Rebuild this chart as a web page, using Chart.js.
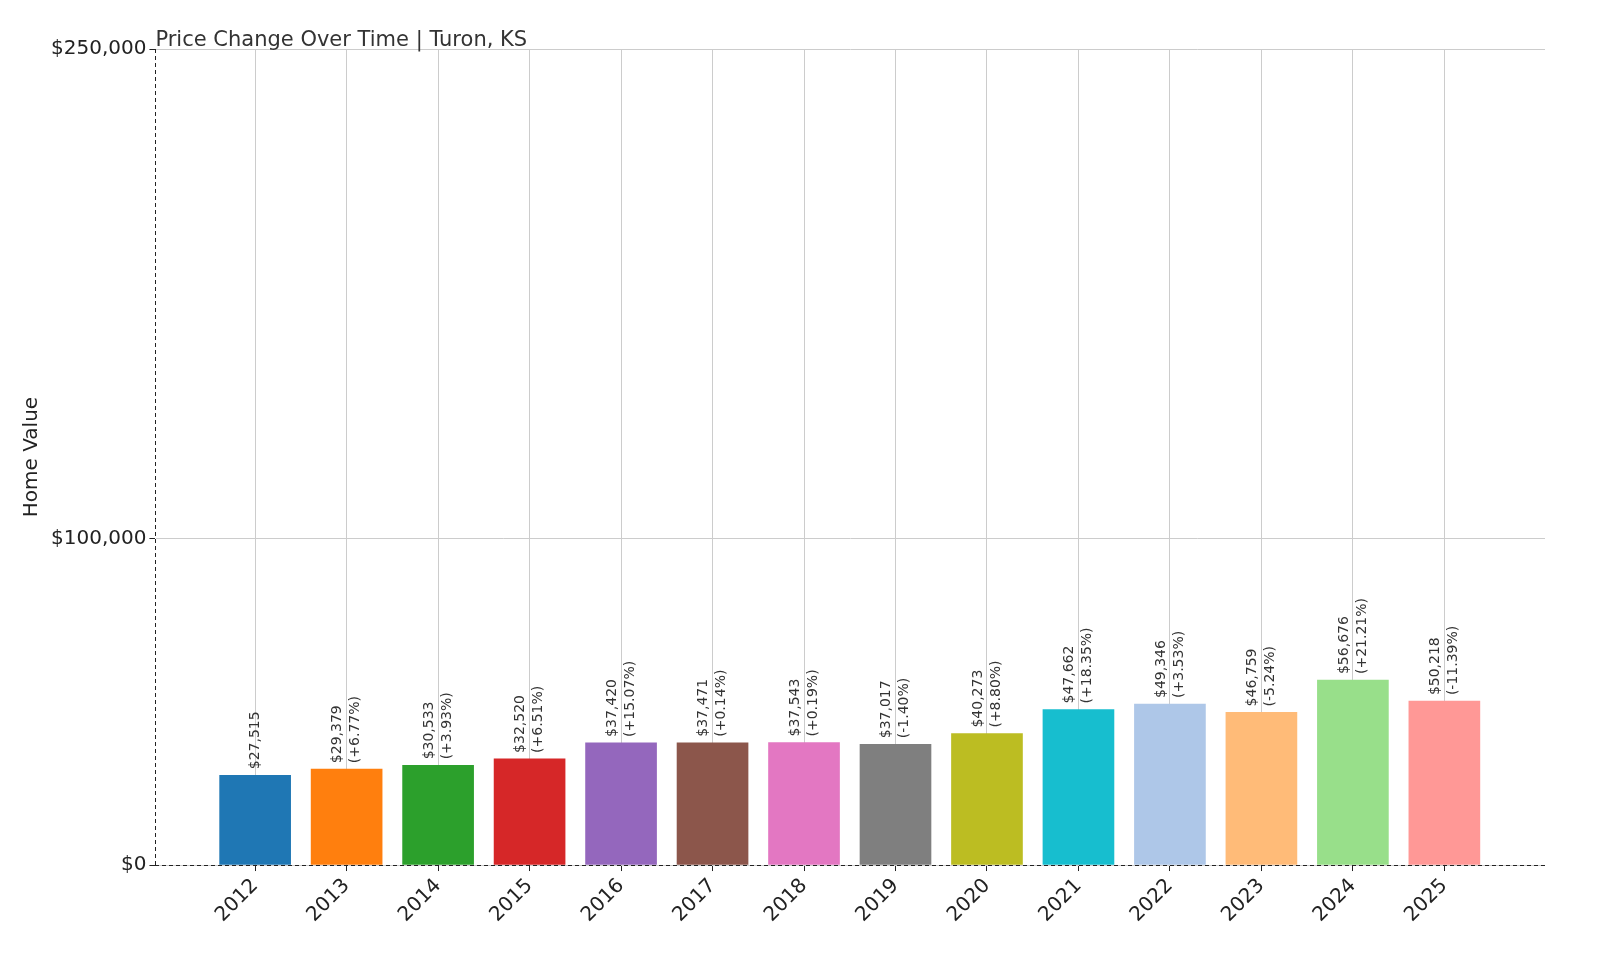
<!DOCTYPE html>
<html><head><meta charset="utf-8">
<script src="https://cdn.jsdelivr.net/npm/chart.js@4"></script>
<style>html,body{margin:0;background:#fff}#c{display:block}</style></head>
<body><canvas id="c" width="1600" height="960"></canvas>
<script>
const years=["2012","2013","2014","2015","2016","2017","2018","2019","2020","2021","2022","2023","2024","2025"];
const values=[27515,29379,30533,32520,37420,37471,37543,37017,40273,47662,49346,46759,56676,50218];
const changes=["","(+6.77%)","(+3.93%)","(+6.51%)","(+15.07%)","(+0.14%)","(+0.19%)","(-1.40%)","(+8.80%)","(+18.35%)","(+3.53%)","(-5.24%)","(+21.21%)","(-11.39%)"];
const yTicks=[0,100000,250000];
const colors=["#1f77b4","#ff7f0e","#2ca02c","#d62728","#9467bd","#8c564b","#e377c2","#7f7f7f","#bcbd22","#17becf","#aec7e8","#ffbb78","#98df8a","#ff9896"];
const F="'DejaVu Sans', sans-serif";
const labelPlugin={id:'lbl',afterDatasetsDraw(ch){
  const ctx=ch.ctx,xs=ch.scales.x,ys=ch.scales.y;
  ctx.save();ctx.font="14px "+F;ctx.fillStyle="#333";ctx.textAlign="left";ctx.textBaseline="middle";
  values.forEach((v,i)=>{
    const x=xs.getPixelForValue(i),y=ys.getPixelForValue(v)-6;
    ctx.save();ctx.translate(x,y);ctx.rotate(-Math.PI/2);
    const s="$"+v.toLocaleString('en-US');
    if(changes[i]){ctx.fillText(s,0,-9);ctx.fillText(changes[i],0,9);}
    else ctx.fillText(s,0,0);
    ctx.restore();
  });
  ctx.font="21px "+F;ctx.fillStyle="#333";ctx.textBaseline="alphabetic";
  ctx.fillText("Price Change Over Time | Turon, KS",ch.chartArea.left,46);
  ctx.restore();
}};
new Chart(document.getElementById('c'),{
  type:'bar',
  data:{datasets:[{data:values.map((v,i)=>({x:i,y:v})),backgroundColor:colors,barThickness:71}]},
  options:{responsive:false,animation:false,
    layout:{padding:{left:16,right:55,top:49,bottom:30}},
    plugins:{legend:{display:false},tooltip:{enabled:false}},
    scales:{
      x:{type:'linear',min:-1.09,max:14.1,offset:false,
        afterBuildTicks(s){s.ticks=years.map((y,i)=>({value:i}));},
        ticks:{callback:(v)=>years[v],color:'#222',font:{family:F,size:20},maxRotation:45,minRotation:45,autoSkip:false},
        grid:{offset:false,color:'#ccc',drawTicks:true,tickLength:6,tickColor:'#222'},border:{color:'#222'}},
      y:{min:0,max:250000,
        afterBuildTicks(s){s.ticks=yTicks.map(v=>({value:v}));},
        ticks:{callback:v=>"$"+v.toLocaleString('en-US'),color:'#222',font:{family:F,size:20}},
        title:{display:true,text:"Home Value",color:'#222',font:{family:F,size:20}},
        grid:{color:'#ccc',tickLength:6,tickColor:'#222'},border:{color:'#222'}}
    }},
  plugins:[labelPlugin,{id:'dash',beforeDraw(ch){ch.ctx.setLineDash([4,3]);},afterDatasetsDraw(){}}]
});
</script></body></html>
